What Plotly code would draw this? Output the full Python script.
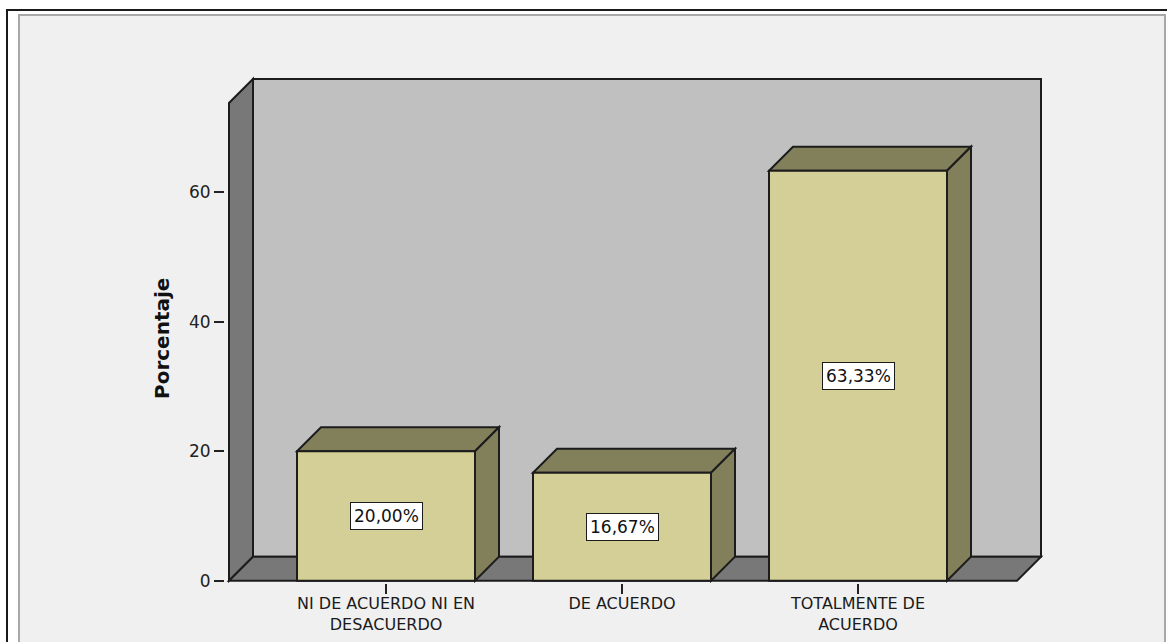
import plotly.graph_objects as go

# ---- data -------------------------------------------------------------
categories = ["NI DE ACUERDO NI EN DESACUERDO", "DE ACUERDO", "TOTALMENTE DE ACUERDO"]
category_ticktext = ["NI DE ACUERDO NI EN<br>DESACUERDO", "DE ACUERDO", "TOTALMENTE DE<br>ACUERDO"]
percentages = [20.00, 16.67, 63.33]
y_ticks = [0, 20, 40, 60]
y_title = "Porcentaje"

# ---- page geometry (pixels) -----------------------------------------
W, H = 1167, 642
CAT0_PX, CAT_STEP_PX = 386.0, 236.0      # centre of first category, spacing
ZERO_PY, PCT_PX = 580.7, 6.473           # pixel row of 0 %, pixels per 1 %
PLOT_L, PLOT_R, PLOT_T, PLOT_B = 225, 1044, 76, 583
DEPTH_PX = 24.0                          # oblique depth of the 3-D box

def px_to_x(px):
    return (px - CAT0_PX) / CAT_STEP_PX

def py_to_y(py):
    return (ZERO_PY - py) / PCT_PX

def px_to_paper(px):
    return (px - PLOT_L) / (PLOT_R - PLOT_L)

def py_to_paper(py):
    return (PLOT_B - py) / (PLOT_B - PLOT_T)

x_range = [px_to_x(PLOT_L), px_to_x(PLOT_R)]
y_range = [py_to_y(PLOT_B), py_to_y(PLOT_T)]

DX = DEPTH_PX / CAT_STEP_PX
DY = DEPTH_PX / PCT_PX
X_LEFT = px_to_x(229)
X_RIGHT = px_to_x(1017)
Y_TOP = py_to_y(103)
BAR_W = 178 / CAT_STEP_PX

# ---- colours ----------------------------------------------------------
EDGE = "#1c1c1c"
BACK_WALL = "#c0c0c0"
SIDE_WALL = "#787878"
BAR_FRONT = "#d3cf97"
BAR_SHADE = "#827f5b"
PANEL = "#f0f0f0"
FONT = "DejaVu Sans"

shapes = []

def poly(points, fill, ref="data", width=2, line=EDGE):
    path = "M " + " L ".join(f"{x},{y}" for x, y in points) + " Z"
    xref, yref = ("x", "y") if ref == "data" else ("paper", "paper")
    shapes.append(dict(type="path", path=path, xref=xref, yref=yref,
                       fillcolor=fill, line=dict(color=line, width=width),
                       layer="below"))

# outer frame and light panel
poly([(px_to_paper(7), py_to_paper(10)), (px_to_paper(1175), py_to_paper(10)),
      (px_to_paper(1175), py_to_paper(660)), (px_to_paper(7), py_to_paper(660))],
     "white", ref="paper", width=2, line="#1a1a1a")
poly([(px_to_paper(19), py_to_paper(15)), (px_to_paper(1165), py_to_paper(15)),
      (px_to_paper(1165), py_to_paper(660)), (px_to_paper(19), py_to_paper(660))],
     PANEL, ref="paper", width=2, line="#a8a8a8")

# back wall, left wall, floor
poly([(X_LEFT + DX, DY), (X_RIGHT + DX, DY), (X_RIGHT + DX, Y_TOP + DY), (X_LEFT + DX, Y_TOP + DY)], BACK_WALL)
poly([(X_LEFT, 0), (X_LEFT + DX, DY), (X_LEFT + DX, Y_TOP + DY), (X_LEFT, Y_TOP)], SIDE_WALL)
poly([(X_LEFT, 0), (X_RIGHT, 0), (X_RIGHT + DX, DY), (X_LEFT + DX, DY)], SIDE_WALL)

# top and right faces of every bar
for i, v in enumerate(percentages):
    x0, x1 = i - BAR_W / 2, i + BAR_W / 2
    poly([(x0, v), (x1, v), (x1 + DX, v + DY), (x0 + DX, v + DY)], BAR_SHADE)
    poly([(x1, 0), (x1 + DX, DY), (x1 + DX, v + DY), (x1, v)], BAR_SHADE)

fig = go.Figure()
fig.add_trace(go.Bar(
    x=list(range(len(categories))), y=percentages, width=BAR_W,
    marker=dict(color=BAR_FRONT, line=dict(color=EDGE, width=2)),
    hovertext=categories, hoverinfo="text+y", showlegend=False,
))

annotations = []
# value labels in white boxes at mid-height of each bar
for i, v in enumerate(percentages):
    annotations.append(dict(
        x=i, y=v / 2, xref="x", yref="y", showarrow=False,
        text=f"{v:.2f}".replace(".", ",") + "%",
        font=dict(family=FONT, size=17, color="#111111"),
        bgcolor="white", bordercolor=EDGE, borderwidth=1, borderpad=3,
    ))

# axis title
annotations.append(dict(
    x=px_to_paper(162), y=py_to_paper(339), xref="paper", yref="paper",
    xanchor="center", yanchor="middle",
    text=f"<b>{y_title}</b>", textangle=-90, showarrow=False,
    font=dict(family=FONT, size=20, color="#111111"),
))

fig.update_layout(
    width=W, height=H,
    margin=dict(l=PLOT_L, r=W - PLOT_R, t=PLOT_T, b=H - PLOT_B, pad=0,
                autoexpand=False),
    paper_bgcolor="white", plot_bgcolor="rgba(0,0,0,0)",
    shapes=shapes, annotations=annotations,
    xaxis=dict(range=x_range, tickvals=list(range(len(categories))),
               ticktext=category_ticktext, ticks="outside", ticklen=10,
               tickwidth=1.5, tickcolor="#222222", showgrid=False,
               zeroline=False, showline=False, fixedrange=True,
               automargin=False, ticklabelstandoff=-4,
               tickfont=dict(family=FONT, size=16, color="#1a1a1a")),
    yaxis=dict(range=y_range, tickvals=y_ticks, ticks="outside", ticklen=10,
               tickwidth=1.5, tickcolor="#222222", showgrid=False,
               zeroline=False, showline=False, fixedrange=True,
               automargin=False,
               tickfont=dict(family=FONT, size=17, color="#222222")),
    font=dict(family=FONT),
)

fig.write_html("out.html")
